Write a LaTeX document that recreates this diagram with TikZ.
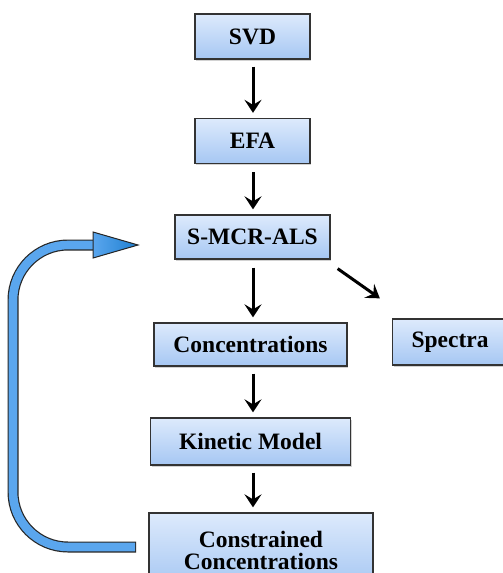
\documentclass[tikz,border=0pt]{standalone}
\usepackage{fontspec}
\setmainfont{Liberation Serif}
\usetikzlibrary{arrows.meta,shadows,calc}
\definecolor{boxtop}{HTML}{DDEAFC}
\definecolor{boxbot}{HTML}{A6C7F3}
\definecolor{loopblue}{HTML}{5AA6EE}
\definecolor{loopdark}{HTML}{1E7FD0}
\begin{document}
\begin{tikzpicture}[x=1pt,y=-1pt,
  stepbox/.style={draw=black!80,line width=1.3pt,top color=boxtop,bottom color=boxbot,
     font=\fontsize{23.5}{25}\selectfont\bfseries,inner sep=0pt,align=center,
     drop shadow={shadow xshift=1pt,shadow yshift=-1.5pt,opacity=0.35}},
  flow/.style={line width=3pt,-{Stealth[length=13pt,width=17pt,inset=5pt]}}]
\useasboundingbox (0,0) rectangle (503,573);
\fill[white] (0,0) rectangle (503,573);
\node[stepbox,minimum width=115,minimum height=45] (svd) at (252.5,36.5) {SVD};
\node[stepbox,minimum width=115,minimum height=45] (efa) at (252.5,141) {EFA};
\node[stepbox,minimum width=155,minimum height=44] (mcr) at (252.5,237) {S-MCR-ALS};
\node[stepbox,minimum width=193,minimum height=43] (conc) at (250.5,344.5) {Concentrations};
\node[stepbox,minimum width=115,minimum height=46] (spec) at (450,342) {Spectra};
\node[stepbox,minimum width=200,minimum height=47] (kin) at (250.5,441.5) {Kinetic Model};
\node[stepbox,minimum width=224,minimum height=74] (cons) at (261,550) {Constrained\\[-3pt]Concentrations};
\coordinate (mcrL) at (138,245);
\coordinate (consL) at (136,547);
\coordinate (ax) at (253,0);
\draw[flow] ($(ax |- svd.south)+(0,7)$) -- ($(ax |- efa.north)+(0,-5)$);
\draw[flow] ($(ax |- efa.south)+(0,8)$) -- ($(ax |- mcr.north)+(0,-5)$);
\draw[flow] ($(ax |- mcr.south)+(0,8)$) -- ($(ax |- conc.north)+(0,-5)$);
\draw[flow] ($(ax |- conc.south)+(0,7)$) -- ($(ax |- kin.north)+(0,-5)$);
\draw[flow] ($(ax |- kin.south)+(0,7)$) -- ($(ax |- cons.north)+(0,-5)$);
\draw[flow] ($(mcr.south east)+(7,9)$) -- ($(spec.north west)+(-12,-20)$);
% blue feedback arrow
\draw[line width=11pt,black!85] (consL) -- (68,547) arc[start angle=90,end angle=180,radius=55] -- (13,300) arc[start angle=180,end angle=270,radius=55] -- (94,245);
\draw[line width=8.6pt,loopblue] ($(consL)+(-1,0)$) -- (68,547) arc[start angle=90,end angle=180,radius=55] -- (13,300) arc[start angle=180,end angle=270,radius=55] -- (95,245);
\filldraw[draw=black!85,line width=1pt,left color=loopblue,right color=loopdark] (93,232) -- (mcrL) -- (93,258) -- cycle;
\end{tikzpicture}
\end{document}
